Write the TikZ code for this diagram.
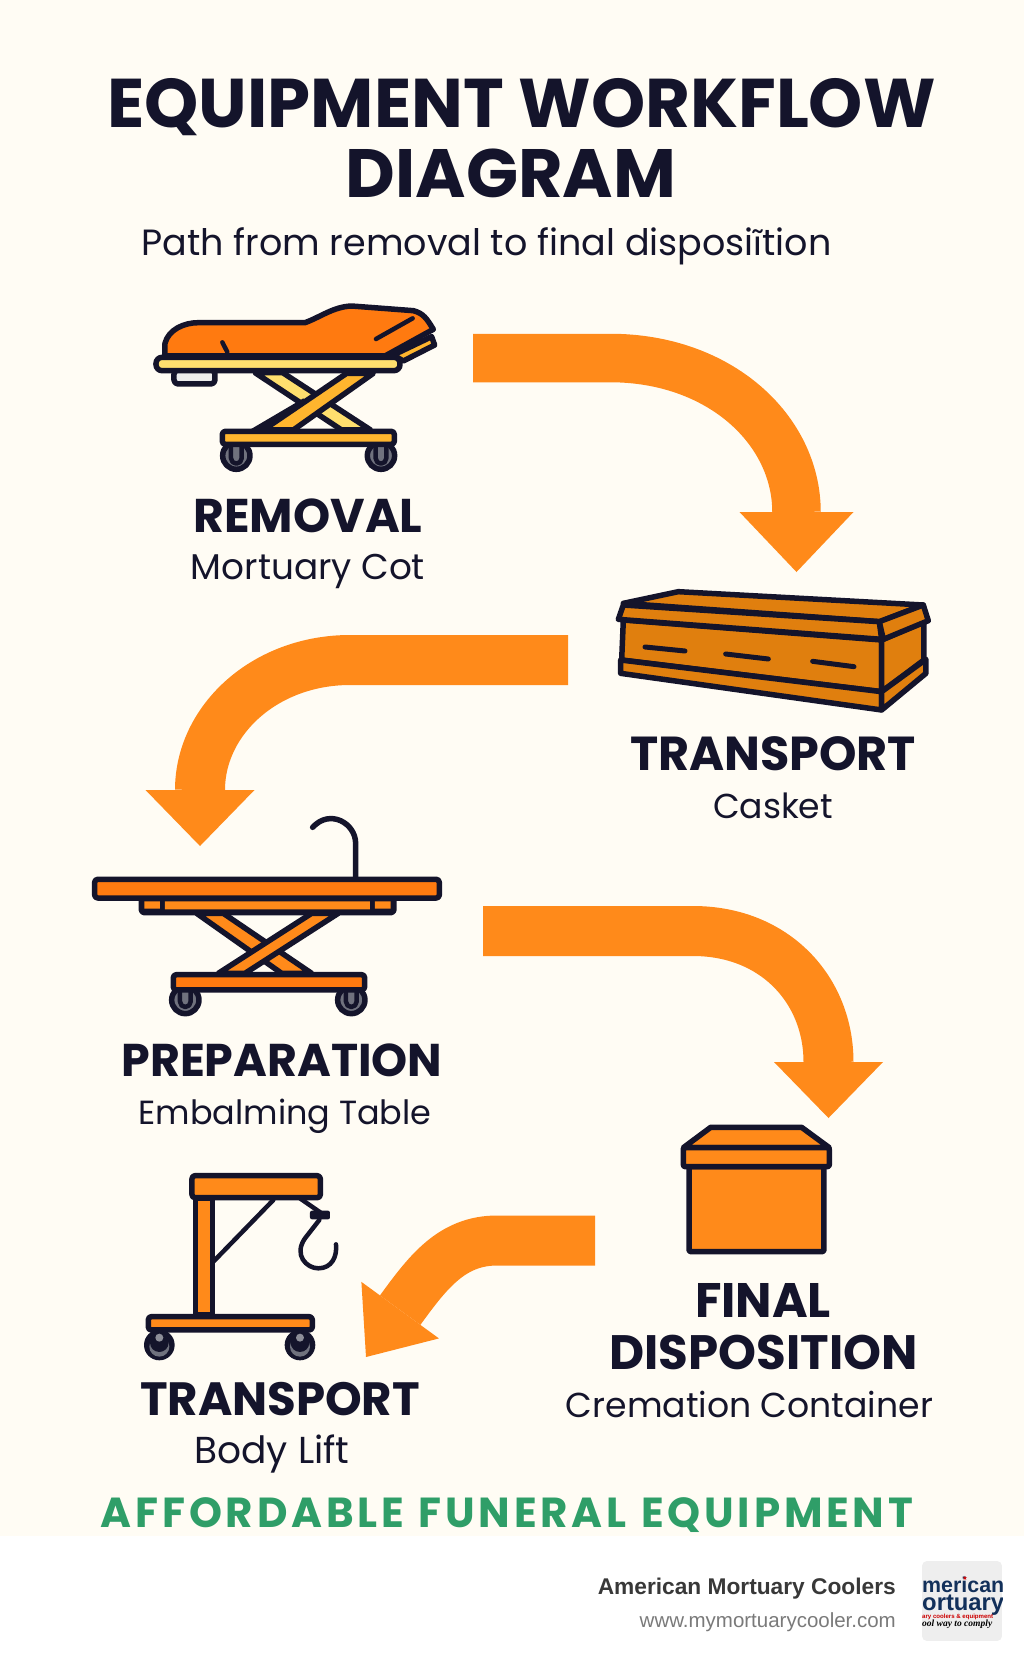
\documentclass[tikz,border=0pt]{standalone}
\usepackage{fontspec}
\usepackage{graphicx}
\setmainfont{Poppins}
\newfontfamily\footfont{Liberation Sans}
\newfontfamily\logoserif{Liberation Serif}
\newfontfamily\latofont{Lato}
\newfontfamily\symfont{DejaVu Sans}
\usetikzlibrary{arrows.meta}
\definecolor{navy}{HTML}{14142B}
\definecolor{paper}{HTML}{FFFCF4}
\definecolor{flow}{HTML}{FF8A1A}
\definecolor{deep}{HTML}{FF7A10}
\definecolor{wood}{HTML}{E07F0E}
\definecolor{pale}{HTML}{FFDF6E}
\definecolor{gold}{HTML}{FFB52E}
\definecolor{steel}{HTML}{70727E}
\definecolor{leaf}{HTML}{2F9E68}
\definecolor{logoblue}{HTML}{12305A}
\newcommand{\fitw}[2]{\resizebox{#1pt}{!}{#2}}
\tikzset{
  part/.style={draw=navy,line width=5.5pt,line join=round},
  thin part/.style={draw=navy,line width=4.5pt,line cap=round,line join=round},
  flowline/.style={draw=flow,line join=round},
  word/.style={anchor=base,inner sep=0pt,text=navy},
}
\begin{document}
\begin{tikzpicture}[x=1pt,y=-1pt]
  \useasboundingbox (0,0) rectangle (1024,1666);
  \fill[paper] (0,0) rectangle (1024,1536);
  \fill[white] (0,1536) rectangle (1024,1666);

  \node[word] (titleone) at (521.5,127) {\fitw{828}{\bfseries EQUIPMENT WORKFLOW}};
  \node[word] (titletwo) at (511,197) {\fitw{330}{\bfseries DIAGRAM}};
  \node[word] (subtitle) at (486.5,255) {\fitw{690}{Path from removal to final disposi{\latofont ĩ}tion}};

  % mortuary cot
  \begin{scope}[shift={(130,280)},x=0.3333pt,y=-0.3333pt]
    \draw[part,fill=gray!15,rounded corners=4pt] (132,270) rectangle (255,312);
    \foreach \wx in {319,753} {
      \draw[part,fill=steel] (\wx,527) circle[radius=41];
      \draw[thin part] (\wx-16,497) -- (\wx-16,535) arc[start angle=180,end angle=0,radius=16] -- (\wx+16,497);
    }
    \draw[part,fill=pale] (375,278) -- (458,278) -- (722,450) -- (635,450) -- cycle;
    \fill[navy] (355,452) -- (520,355) -- (550,385) -- (420,452) -- cycle;
    \draw[part,fill=gold] (400,450) -- (650,280) -- (730,280) -- (490,450) -- cycle;
    \draw[part,fill=gold,rounded corners=3pt] (277,454) rectangle (793,493);
    \draw[part,fill=gold] (790,225) -- (905,170) -- (914,195) -- (820,243) -- cycle;
    \draw[part,fill=deep] (105,228) -- (105,190) .. controls (115,150) and (160,128) .. (205,128) -- (525,128)
      .. controls (570,112) and (610,80) .. (665,78) -- (850,92) .. controls (880,100) and (890,115) .. (910,148)
      -- (765,228) -- cycle;
    \draw[part,fill=pale,rounded corners=6pt] (78,232) rectangle (810,272);
    \draw[thin part] (738,177) -- (848,115);
    \draw[thin part] (277,187) -- (292,216);
  \end{scope}

  % casket
  \begin{scope}[shift={(600,570)},x=0.3333pt,y=-0.3333pt]
    \draw[part,fill=wood] (70,150) -- (845,210) -- (845,365) -- (65,270) -- cycle;
    \draw[part,fill=wood] (845,210) -- (972,155) -- (972,270) -- (845,365) -- cycle;
    \draw[part,fill=wood] (62,270) -- (845,365) -- (845,420) -- (62,310) -- cycle;
    \draw[part,fill=wood] (845,365) -- (978,268) -- (978,310) -- (845,420) -- cycle;
    \draw[part,fill=wood] (70,100) -- (235,65) -- (970,105) -- (840,155) -- cycle;
    \draw[part,fill=wood] (70,105) -- (55,148) -- (845,208) -- (838,155) -- cycle;
    \draw[part,fill=wood] (838,155) -- (970,105) -- (985,152) -- (850,208) -- cycle;
    \draw[thin part,line width=5pt] (135,231) -- (255,243);
    \draw[thin part,line width=5pt] (377,252) -- (505,267);
    \draw[thin part,line width=5pt] (638,274) -- (762,290);
  \end{scope}

  % embalming table
  \begin{scope}[shift={(80,800)},x=0.3333pt,y=-0.3333pt]
    \draw[thin part,line width=5.5pt] (827,235) -- (827,130) .. controls (827,70) and (750,25) .. (698,82);
    \foreach \wx in {316,814} {
      \draw[part,fill=steel] (\wx,600) circle[radius=41];
      \draw[thin part] (\wx-16,570) -- (\wx-16,605) arc[start angle=180,end angle=0,radius=16] -- (\wx+16,570);
    }
    \draw[part,fill=flow] (350,340) -- (430,340) -- (695,520) -- (605,520) -- cycle;
    \draw[part,fill=flow] (695,340) -- (775,340) -- (495,520) -- (415,520) -- cycle;
    \draw[part,fill=deep,rounded corners=3pt] (280,524) rectangle (854,570);
    \draw[part,fill=navy,rounded corners=3pt] (184,296) rectangle (942,338);
    \fill[flow] (193,304) rectangle (240,326) (255,304) rectangle (870,328) (885,304) rectangle (932,326);
    \draw[part,fill=deep,rounded corners=3pt] (44,238) rectangle (1078,294);
  \end{scope}

  % body lift
  \begin{scope}[shift={(130,1160)},x=0.3333pt,y=-0.3333pt]
    \foreach \wx in {88,510} {
      \fill[navy] (\wx,555) circle[radius=46];
      \fill[steel] (\wx,560) circle[radius=30];
      \fill[navy] (\wx,548) circle[radius=28];
      \fill[steel!80] (\wx,533) circle[radius=12];
    }
    \draw[thin part] (250,305) -- (430,120);
    \draw[thin part] (510,115) -- (575,160);
    \draw[thin part] (568,180) -- (525,235) .. controls (490,285) and (530,325) .. (565,325)
      .. controls (605,325) and (622,290) .. (618,253);
    \fill[navy,rounded corners=2pt] (540,152) rectangle (600,178);
    \draw[part,fill=flow] (196,115) rectangle (248,465);
    \draw[part,fill=flow,rounded corners=3pt] (186,47) rectangle (571,113);
    \draw[part,fill=flow,rounded corners=3pt] (55,470) rectangle (547,510);
  \end{scope}

  % cremation container
  \begin{scope}[shift={(660,1110)},x=0.3333pt,y=-0.3333pt]
    \draw[part,fill=flow,rounded corners=2pt] (87,170) rectangle (492,425);
    \draw[part,fill=flow] (70,113) -- (152,52) -- (425,52) -- (508,113) -- cycle;
    \draw[part,fill=flow,rounded corners=2pt] (70,113) rectangle (508,170);
  \end{scope}

  % flow arrows
  \coordinate (removalout) at (473,358);
  \coordinate (transportin) at (796.5,572);
  \coordinate (transportout) at (568,660);
  \coordinate (prepin) at (200,846);
  \coordinate (prepout) at (483,931);
  \coordinate (finalin) at (828.5,1118);
  \coordinate (finalout) at (595,1240.5);
  \coordinate (liftin) at (366,1357);
  \draw[flowline,line width=48.5pt,-{Triangle[line width=0pt,length=60pt,width=114pt]}] (removalout) -- (610,358)
    .. controls (720,358) and (796.5,430) .. (796.5,512) -- (transportin);
  \draw[flowline,line width=50pt,-{Triangle[line width=0pt,length=56pt,width=109pt]}] (transportout) -- (350,660)
    .. controls (265,660) and (200,720) .. (200,790) -- (prepin);
  \draw[flowline,line width=50pt,-{Triangle[line width=0pt,length=56pt,width=109pt]}] (prepout) -- (693,931)
    .. controls (775,931) and (828.5,990) .. (828.5,1062) -- (finalin);
  \draw[flowline,line width=50pt,-{Triangle[line width=0pt,length=58pt,width=96pt]}] (finalout) -- (497,1240.5)
    .. controls (452,1240.5) and (428,1272) .. (401,1309) -- (liftin);

  \node[word] (removal) at (308,532) {\fitw{229}{\bfseries REMOVAL}};
  \node[word] (cot) at (308,579) {\fitw{234}{Mortuary Cot}};
  \node[word] (transport) at (773,770) {\fitw{286}{\bfseries TRANSPORT}};
  \node[word] (casket) at (773,818) {\fitw{120}{Casket}};
  \node[word] (preparation) at (282,1076) {\fitw{321}{\bfseries PREPARATION}};
  \node[word] (table) at (285,1124) {\fitw{293}{Embalming Table}};
  \node[word] (final) at (763,1317) {\fitw{136}{\bfseries FINAL}};
  \node[word] (disposition) at (763.5,1369.5) {\fitw{308}{\bfseries DISPOSITION}};
  \node[word] (container) at (749.5,1417) {\fitw{367}{Cremation Container}};
  \node[word] (transportlift) at (280,1415) {\fitw{280}{\bfseries TRANSPORT}};
  \node[word] (lift) at (272,1463) {\fitw{155}{Body Lift}};
  \node[word,text=leaf] (slogan) at (507,1527) {\fitw{812}{\bfseries\addfontfeature{LetterSpace=9}AFFORDABLE\hspace{.35em}FUNERAL\hspace{.35em}EQUIPMENT}};

  \node[anchor=base east,inner sep=0pt,text=black!78] (company) at (896,1594) {\fitw{298}{\footfont\bfseries American Mortuary Coolers}};
  \node[anchor=base east,inner sep=0pt,text=black!52] (website) at (896,1627) {\fitw{256}{\footfont www.mymortuarycooler.com}};

  % logo tile
  \begin{scope}
    \clip[rounded corners=5pt] (922,1561) rectangle (1002,1641);
    \fill[gray!13] (922,1561) rectangle (1002,1641);
    \node[anchor=base west,inner sep=0pt,text=logoblue] (logoa) at (922,1592) {\fitw{82}{\footfont\bfseries merican}};
    \node[anchor=base west,inner sep=0pt,text=logoblue] (logob) at (922,1610) {\fitw{82}{\footfont\bfseries ortuary}};
    \node[anchor=base west,inner sep=0pt,text=red!80!black] (logoc) at (922,1618) {\fitw{71}{\footfont\bfseries ary coolers \& equipment}};
    \node[anchor=base west,inner sep=0pt,text=black] (logod) at (922,1626) {\fitw{70}{\logoserif\bfseries\itshape ool way to comply}};
    \node[inner sep=0pt,text=red!85!black,font=\symfont\fontsize{6}{6}\selectfont] (logostar) at (965,1578) {★};
  \end{scope}
\end{tikzpicture}
\end{document}
